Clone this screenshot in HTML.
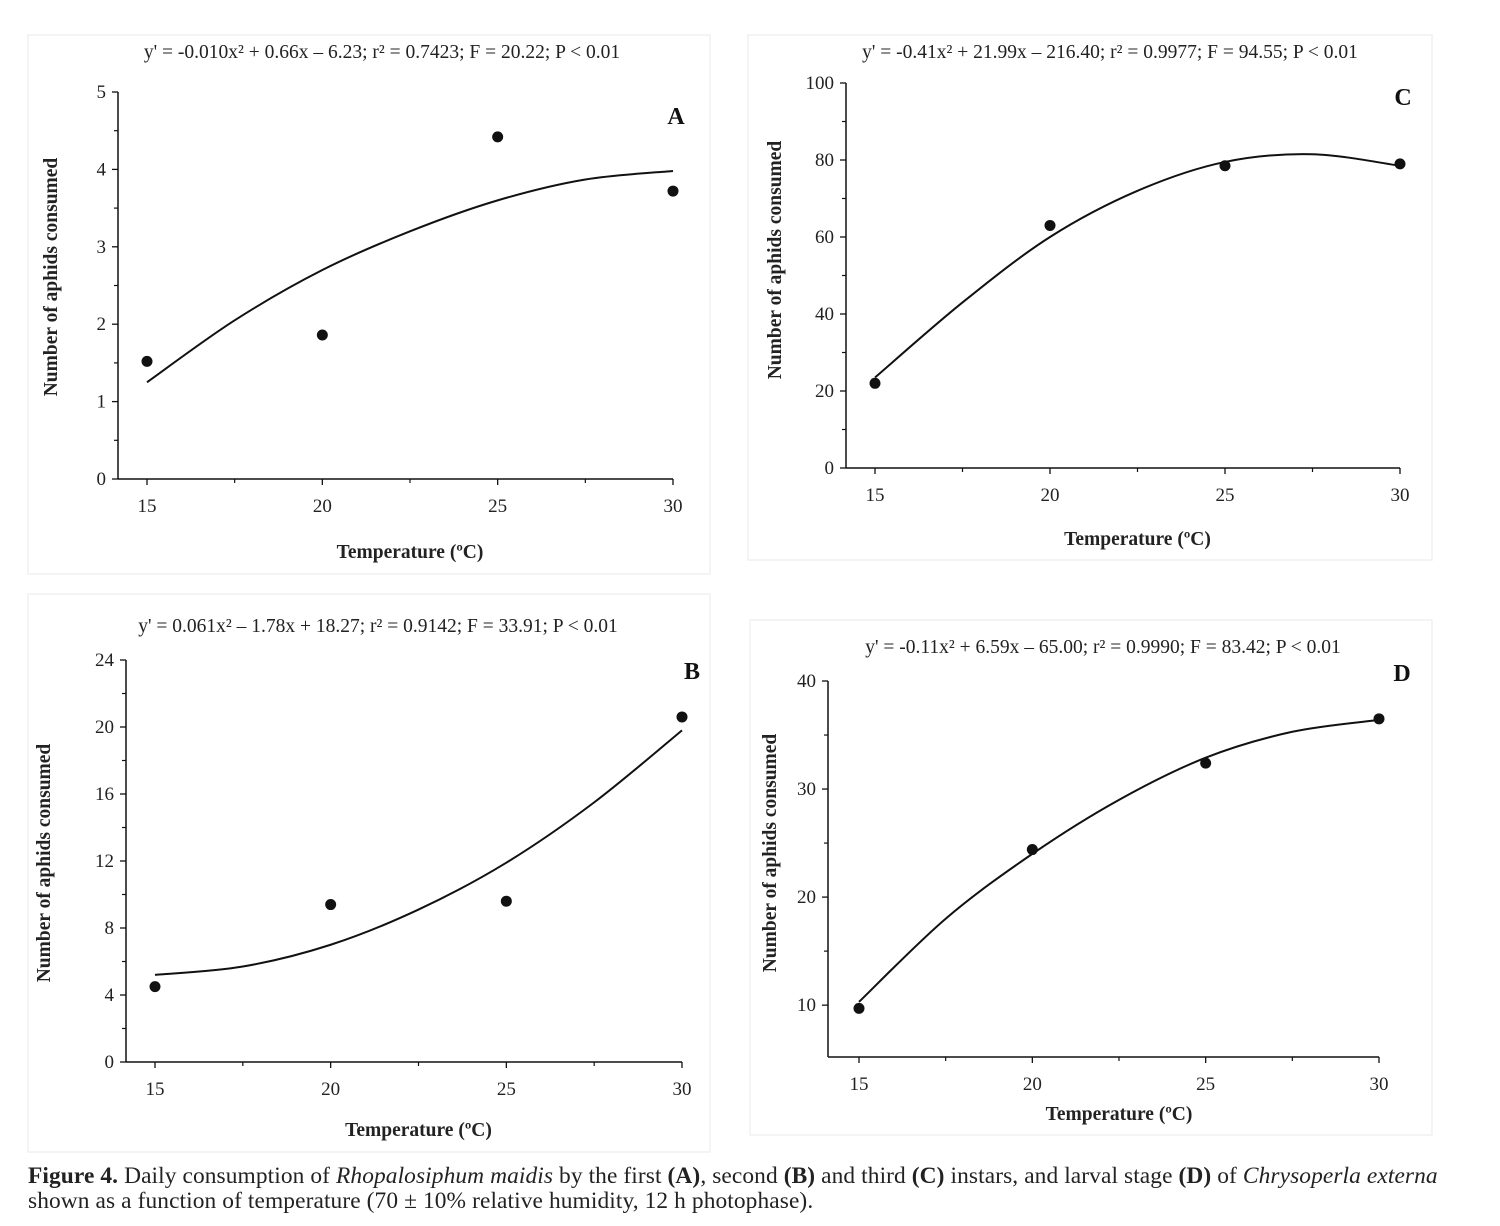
<!DOCTYPE html>
<html><head><meta charset="utf-8"><style>
body{margin:0;background:#fff;width:1500px;height:1226px;overflow:hidden;font-family:"Liberation Serif",serif;}
svg{position:absolute;left:0;top:0}
.cap{position:absolute;left:28px;top:1164px;font-size:23.4px;line-height:25px;color:#222;width:1460px;letter-spacing:0.1px;white-space:nowrap}
</style></head><body>
<svg id="fig" width="1500" height="1226"></svg>
<div class="cap"><b>Figure 4.</b> Daily consumption of <i>Rhopalosiphum maidis</i> by the first <b>(A)</b>, second <b>(B)</b> and third <b>(C)</b> instars, and larval stage <b>(D)</b> of <i>Chrysoperla externa</i><br>shown as a function of temperature (70 ± 10% relative humidity, 12 h photophase).</div>
<script>
const temps=[15,20,25,30];
const curveTemps=[15,17.5,20,22.5,25,27.5,30];
const pointsA=[1.52,1.86,4.42,3.72];
const curveA=[1.25,2.05,2.7,3.2,3.6,3.87,3.98];
const ticksA=[0,1,2,3,4,5];
const pointsB=[4.5,9.4,9.6,20.6];
const curveB=[5.2,5.7,7.0,9.1,11.9,15.5,19.8];
const ticksB=[0,4,8,12,16,20,24];
const pointsC=[22,63,78.5,79];
const curveC=[23.5,43,60,72,79.5,81.5,78.5];
const ticksC=[0,20,40,60,80,100];
const pointsD=[9.7,24.4,32.4,36.5];
const curveD=[10.3,18,24,29,32.9,35.3,36.4];
const ticksD=[10,20,30,40];
const xTicks=[15,20,25,30];
const eqA="y' = -0.010x² + 0.66x – 6.23; r² = 0.7423; F = 20.22; P < 0.01";
const eqB="y' = 0.061x² – 1.78x + 18.27; r² = 0.9142; F = 33.91; P < 0.01";
const eqC="y' = -0.41x² + 21.99x – 216.40; r² = 0.9977; F = 94.55; P < 0.01";
const eqD="y' = -0.11x² + 6.59x – 65.00; r² = 0.9990; F = 83.42; P < 0.01";

const NS="http://www.w3.org/2000/svg";
const svg=document.getElementById('fig');
function mk(tag,attrs,parent,text){const e=document.createElementNS(NS,tag);for(const k in attrs)e.setAttribute(k,attrs[k]);if(text!==undefined)e.textContent=text;(parent||svg).appendChild(e);return e;}

function panel(c){
  const g=mk('g',{});
  
  
  const fr=mk('rect',{x:c.box[0],y:c.box[1],width:c.box[2],height:c.box[3],fill:'none',stroke:'#f0f0f0','stroke-width':1.5},g);
  
  
  const sx=v=>c.x0+(v-15)*(c.x1-c.x0)/15;
  const sy=v=>c.yb-(v-c.ymin)*(c.yb-c.yt)/(c.ymax-c.ymin);
  const ya=mk('line',{x1:c.ax,y1:sy(c.ymax),x2:c.ax,y2:c.yb,stroke:'#111','stroke-width':1.5},g);
  
  
  const xa=mk('line',{x1:c.ax,y1:c.yb,x2:sx(30),y2:c.yb,stroke:'#111','stroke-width':1.5},g);
  
  
  c.ticks.forEach((t,i)=>{
    mk('line',{x1:c.ax-6,y1:sy(t),x2:c.ax,y2:sy(t),stroke:'#111','stroke-width':1.3},g);
    const tl=mk('text',{x:c.ax-12,y:sy(t)+6,'text-anchor':'end','font-size':19,fill:'#222'},g,t);
    
    
    if(i<c.ticks.length-1){const m=(t+c.ticks[i+1])/2;mk('line',{x1:c.ax-4,y1:sy(m),x2:c.ax,y2:sy(m),stroke:'#111','stroke-width':1.2},g);}
  });
  if(c.ymin<c.ticks[0]){const m=c.ticks[0]-(c.ticks[1]-c.ticks[0])/2; if(m>=c.ymin) mk('line',{x1:c.ax-4,y1:sy(m),x2:c.ax,y2:sy(m),stroke:'#111','stroke-width':1.2},g);}
  xTicks.forEach((t,i)=>{
    mk('line',{x1:sx(t),y1:c.yb,x2:sx(t),y2:c.yb+6,stroke:'#111','stroke-width':1.3},g);
    const tl=mk('text',{x:sx(t),y:c.yb+33,'text-anchor':'middle','font-size':19,fill:'#222'},g,t);
    
    
    if(i<xTicks.length-1)mk('line',{x1:sx(t+2.5),y1:c.yb,x2:sx(t+2.5),y2:c.yb+4,stroke:'#111','stroke-width':1.2},g);
  });
  const P=curveTemps.map((t,i)=>[sx(t),sy(c.curve[i])]);
  let d='M'+P[0][0]+','+P[0][1];
  for(let i=0;i<P.length-1;i++){const p0=P[Math.max(0,i-1)],p1=P[i],p2=P[i+1],p3=P[Math.min(P.length-1,i+2)];
    d+=` C${p1[0]+(p2[0]-p0[0])/6},${p1[1]+(p2[1]-p0[1])/6} ${p2[0]-(p3[0]-p1[0])/6},${p2[1]-(p3[1]-p1[1])/6} ${p2[0]},${p2[1]}`;}
  const cv=mk('path',{d:d,fill:'none',stroke:'#111','stroke-width':2},g);
  
  
  temps.forEach((t,i)=>{
    const pt=mk('circle',{cx:sx(t),cy:sy(c.points[i]),r:5.5,fill:'#111'},g);
    
    
  });
  const eq=mk('text',{x:c.eqx,y:c.eqy,'text-anchor':'middle','font-size':19.5,fill:'#222'},g,c.eq);
  
  
  const lb=mk('text',{x:c.lbl[0],y:c.lbl[1],'text-anchor':'middle','font-size':24,'font-weight':'bold',fill:'#111'},g,c.id);
  
  
  const xt=mk('text',{x:(sx(15)+sx(30))/2,y:c.xty,'text-anchor':'middle','font-size':19.5,'font-weight':'bold',fill:'#222'},g,'Temperature (ºC)');
  
  
  const yc=c.ytc;
  const yt=mk('text',{x:c.ytx,y:yc,'text-anchor':'middle','font-size':19.5,'font-weight':'bold',fill:'#222',transform:`rotate(-90 ${c.ytx} ${yc})`},g,'Number of aphids consumed');
  
  
}
panel({id:'A',box:[28,35,682,539],ax:118,x0:147,x1:673,yb:479,yt:92,ymin:0,ymax:5,ticks:ticksA,points:pointsA,curve:curveA,eq:eqA,eqx:382,eqy:58,lbl:[676,124],xty:558,ytx:57,ytc:277});
panel({id:'C',box:[748,35,684,525],ax:846,x0:875,x1:1400,yb:468,yt:83,ymin:0,ymax:100,ticks:ticksC,points:pointsC,curve:curveC,eq:eqC,eqx:1110,eqy:58,lbl:[1403,105],xty:545,ytx:781,ytc:260});
panel({id:'B',box:[28,594,682,558],ax:126,x0:155,x1:682,yb:1062,yt:660,ymin:0,ymax:24,ticks:ticksB,points:pointsB,curve:curveB,eq:eqB,eqx:378,eqy:632,lbl:[692,679],xty:1136,ytx:50,ytc:863});
panel({id:'D',box:[750,620,682,515],ax:828,x0:859,x1:1379,yb:1057,yt:681,ymin:5.2,ymax:40,ticks:ticksD,points:pointsD,curve:curveD,eq:eqD,eqx:1103,eqy:653,lbl:[1402,681],xty:1120,ytx:776,ytc:853});
</script>
</body></html>
